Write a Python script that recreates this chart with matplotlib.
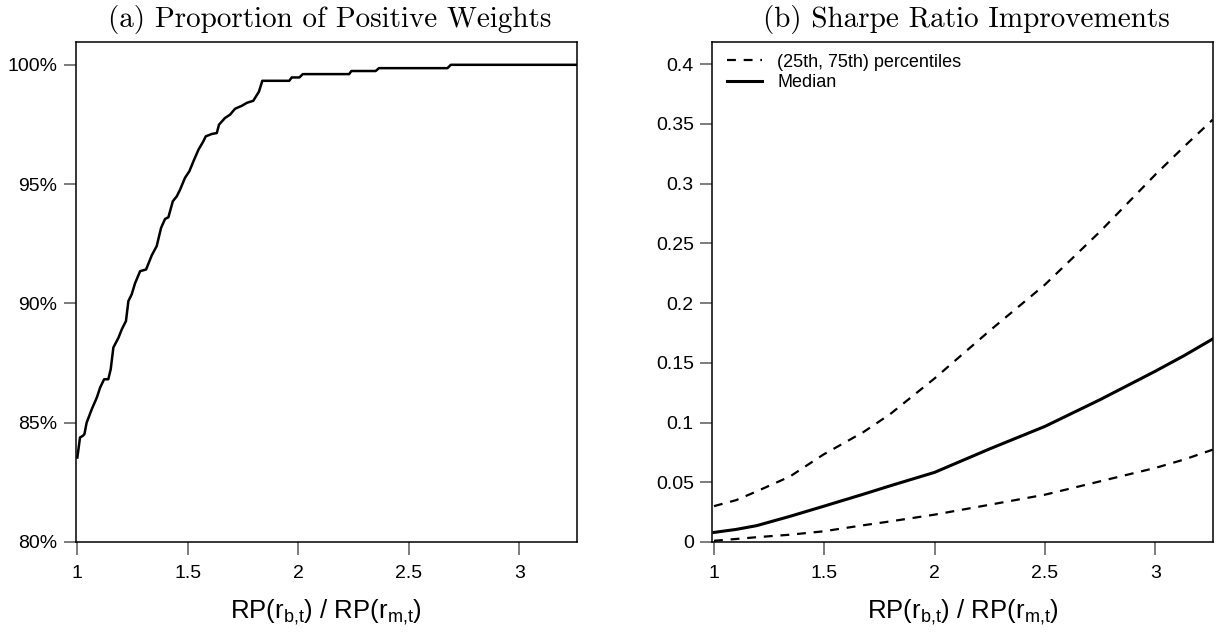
import matplotlib
matplotlib.use("Agg")
import matplotlib.pyplot as plt
from matplotlib.ticker import FuncFormatter

plt.rcParams['font.family'] = ['Liberation Sans', 'DejaVu Sans']
plt.rcParams['mathtext.default'] = 'regular'

# (a) proportion of positive weights, in percent
ratio_a = [1.000, 1.012, 1.025, 1.032, 1.042, 1.065, 1.088, 1.103, 1.121, 1.140,
           1.151, 1.163, 1.186, 1.201, 1.220, 1.231, 1.246, 1.261, 1.284, 1.311,
           1.337, 1.359, 1.379, 1.397, 1.412, 1.432, 1.450, 1.465, 1.487, 1.507,
           1.525, 1.548, 1.570, 1.581, 1.608, 1.631, 1.641, 1.668, 1.691, 1.714,
           1.744, 1.766, 1.778, 1.796, 1.822, 1.837, 1.959, 1.970, 2.005, 2.020,
           2.230, 2.240, 2.350, 2.365, 2.675, 2.690, 3.260]
pos_weights = [83.54, 84.38, 84.45, 84.52, 85.00, 85.56, 86.05, 86.47, 86.82, 86.82,
               87.24, 88.15, 88.56, 88.91, 89.26, 90.10, 90.38, 90.84, 91.35, 91.42,
               92.02, 92.40, 93.17, 93.54, 93.61, 94.28, 94.49, 94.77, 95.26, 95.54,
               95.95, 96.44, 96.79, 97.00, 97.10, 97.14, 97.49, 97.77, 97.91, 98.16,
               98.28, 98.40, 98.44, 98.49, 98.88, 99.33, 99.33, 99.47, 99.47, 99.61,
               99.61, 99.74, 99.74, 99.86, 99.86, 100.0, 100.0]

# (b) Sharpe ratio improvements
ratio_b = [1.00, 1.10, 1.194, 1.345, 1.495, 1.677, 1.798, 2.00, 2.25, 2.50,
           2.75, 3.00, 3.13, 3.26]
sr_p75 = [0.030, 0.035, 0.0424, 0.0549, 0.0731, 0.092, 0.107, 0.137, 0.177, 0.2155,
          0.260, 0.3076, 0.331, 0.3536]
sr_med = [0.008, 0.0105, 0.0137, 0.0215, 0.0298, 0.040, 0.047, 0.0583, 0.0780, 0.0968,
          0.1192, 0.143, 0.156, 0.170]
sr_p25 = [0.001, 0.0025, 0.0040, 0.0061, 0.0089, 0.0140, 0.0172, 0.0229, 0.0312, 0.0396,
          0.0508, 0.062, 0.069, 0.0773]

xticks = [1, 1.5, 2, 2.5, 3]
xlab = r'RP(r$_{b{,}t}$) / RP(r$_{m{,}t}$)'

fig = plt.figure(figsize=(12.17, 6.33), dpi=100)
ax1 = fig.add_axes([0.0622, 0.1438, 0.4117, 0.790])
ax2 = fig.add_axes([0.5853, 0.1438, 0.4112, 0.790])

def style(ax):
    for s in ax.spines.values():
        s.set_linewidth(1.1)
    ax.tick_params(direction='out', length=9, width=1.1, color='0.35',
                   labelsize=14, pad=4.3)
    ax.tick_params(axis='x', pad=7.5)
    ax.set_xticks(xticks)
    ax.set_xticklabels(['1', '1.5', '2', '2.5', '3'])
    ax.set_xlim(0.9925, 3.26)
    ax.set_xlabel(xlab, fontsize=18.5, labelpad=11.5)

ax1.plot(ratio_a, pos_weights, color='black', lw=1.8)
ax1.set_ylim(80, 100.96)
ax1.set_yticks([80, 85, 90, 95, 100])
ax1.yaxis.set_major_formatter(FuncFormatter(lambda v, p: f'{v:.0f}%'))
style(ax1)

ax2.plot(ratio_b, sr_p75, color='black', lw=1.6, dashes=(4, 3.5),
         label='(25th, 75th) percentiles')
ax2.plot(ratio_b, sr_med, color='black', lw=2.2, label='Median')
ax2.plot(ratio_b, sr_p25, color='black', lw=1.6, dashes=(4, 3.5))
ax2.set_ylim(0, 0.4187)
ax2.set_yticks([0, 0.05, 0.1, 0.15, 0.2, 0.25, 0.3, 0.35, 0.4])
ax2.set_yticklabels(['0', '0.05', '0.1', '0.15', '0.2', '0.25', '0.3', '0.35', '0.4'])
style(ax2)
ax2.legend(loc='upper left', bbox_to_anchor=(0.015, 0.991), frameon=False,
           fontsize=13, handlelength=1.95, handletextpad=0.83,
           labelspacing=0.2, borderaxespad=0)

fig.text(329.5 / 1217, 0.9573, '(a) Proportion of Positive Weights', ha='center',
         va='baseline', family='cmr10', fontsize=21)
fig.text(966 / 1217, 0.9573, '(b) Sharpe Ratio Improvements', ha='center',
         va='baseline', family='cmr10', fontsize=21)

fig.savefig('out.png', dpi=100)
